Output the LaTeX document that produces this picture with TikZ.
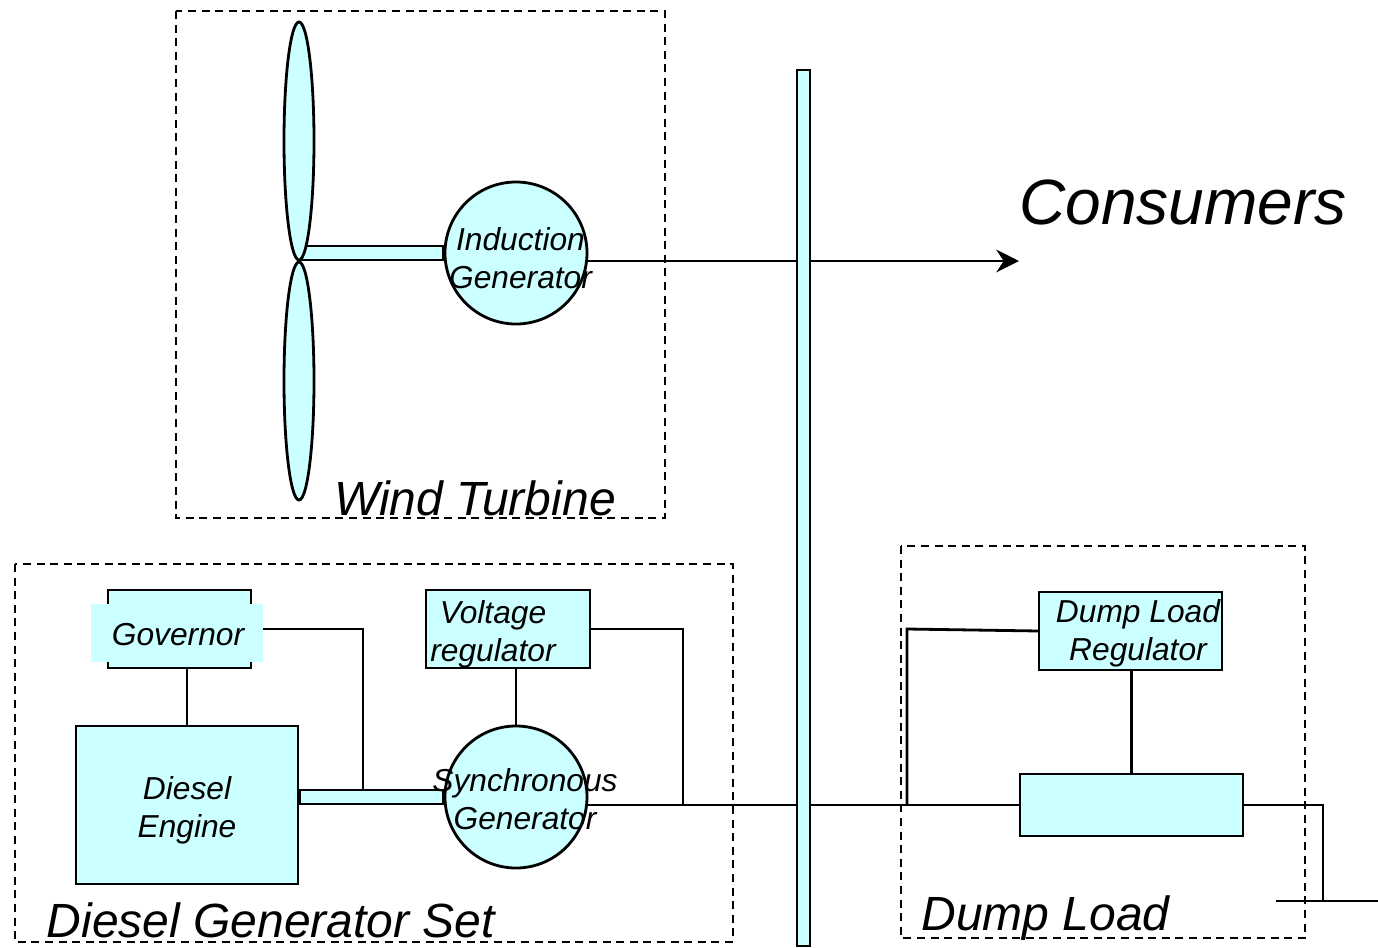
\documentclass[tikz,border=0pt]{standalone}
\usepackage{fontspec}
\setmainfont{Liberation Sans}
\usepackage{xcolor}
\usetikzlibrary{arrows.meta,calc,shapes.geometric}
\definecolor{PartCyan}{HTML}{ccffff}
\tikzset{
  partbox/.style={draw=black,fill=PartCyan,line width=2.1pt,inner sep=0pt,outer sep=0pt},
  genball/.style={partbox,circle,minimum size=106.5pt},
  blade/.style={partbox,ellipse,minimum width=22.5pt,minimum height=178.5pt},
  groupbox/.style={draw=black,line width=2pt,dash pattern=on 6pt off 4.2pt},
  wire/.style={draw=black,line width=2.1pt},
  smalltext/.style={font=\fontsize{23.8}{28.5}\selectfont\itshape,align=center,inner sep=0pt},
  bigtext/.style={font=\fontsize{36}{42}\selectfont\itshape,inner sep=0pt}
}
\begin{document}
\begin{tikzpicture}[x=0.75pt,y=-0.75pt]
    \useasboundingbox (0,0) rectangle (1378,947);
    % dashed groups
    \draw[groupbox] (176,11) rectangle (665,518);
    \draw[groupbox] (15,564) rectangle (733,942);
    \draw[groupbox] (901,546) rectangle (1305,938);
    \node[bigtext] (windname) at (475,498) {Wind Turbine};
    \node[bigtext] (dieselname) at (271,920) {Diesel Generator Set};
    \node[bigtext] (dumpname) at (1045.5,918) {Dump Load};
    \node[font=\fontsize{48}{50}\selectfont\itshape,inner sep=0pt] (consumers) at (1183,202) {Consumers};
    % wind turbine
    \node[partbox,minimum width=107.25pt,minimum height=10.5pt] (windshaft) at (371.5,253) {};
    \foreach \y/\name in {141/topblade,381/lowblade} {
     \node[blade] (\name) at (299,\y) {};
    }
    \node[genball] (indgen) at (516,253) {};
    % diesel set
    \node[partbox,minimum width=107.25pt,minimum height=58.5pt] (govbox) at (179.5,629) {};
    \node[fill=PartCyan,minimum width=129pt,minimum height=43.5pt,inner sep=0pt,outer sep=0pt] (govlabel) at (177,633) {};
    \node[partbox,minimum width=123pt,minimum height=58.5pt] (voltbox) at (508,629) {};
    \node[partbox,minimum width=166.5pt,minimum height=118.5pt] (engine) at (187,805) {};
    \node[partbox,minimum width=107.25pt,minimum height=10.5pt] (dieselshaft) at (371.5,797) {};
    \node[genball] (syngen) at (516,797) {};
    % dump load
    \node[partbox,minimum width=137.25pt,minimum height=58.5pt] (dumpreg) at (1130.5,631) {};
    \node[partbox,minimum width=167.25pt,minimum height=46.5pt] (loadbox) at (1131.5,805) {};
    % free ends
    \coordinate (arrowend) at (1019,261);
    \coordinate (govdrop) at (363,790);
    \coordinate (voltdrop) at (683,805);
    \coordinate (regdrop) at (907,805);
    \coordinate (groundtop) at (1323,901);
    \coordinate (groundleft) at (1276,901);
    \coordinate (groundright) at (1378,901);
    \coordinate (indout) at (587,261);
    \coordinate (synout) at (587,805);
    \coordinate (regout) at (1039,631);
    % connectors
    \draw[wire,-{Stealth[length=17pt,width=17pt,inset=5.5pt]}] (indout) -- (arrowend);
    \draw[wire] (synout) -- (loadbox.west);
    \draw[wire] (govlabel.east |- govbox.center) -| (govdrop);
    \draw[wire] (voltbox.east) -| (voltdrop);
    \draw[wire] (regout) -- (907,629) -- (regdrop);
    \draw[wire] (loadbox.east) -| (groundtop);
    \draw[wire] (groundleft) -- (groundright);
    \draw[wire] (govbox.south -| engine.north) -- (engine.north);
    \draw[wire] (voltbox.south -| syngen.north) -- (syngen.north);
    \draw[wire] (dumpreg.south -| loadbox.north) -- (loadbox.north);
    % bus on top of the lines
    \node[partbox,minimum width=9.75pt,minimum height=657pt] (bus) at (803.5,508) {};
    % part names
    \node[smalltext] (indtext) at (520.5,258) {Induction\\Generator};
    \node[smalltext] (govtext) at (178,635) {Governor};
    \node[smalltext] (volttext) at (493,634) {Voltage\\regulator};
    \node[smalltext] (enginetext) at (187,810) {Diesel\\Engine};
    \node[smalltext] (syntext) at (525,799) {Synchronous\\Generator};
    \node[smalltext] (regtext) at (1138,633) {Dump Load\\Regulator};
\end{tikzpicture}
\end{document}
